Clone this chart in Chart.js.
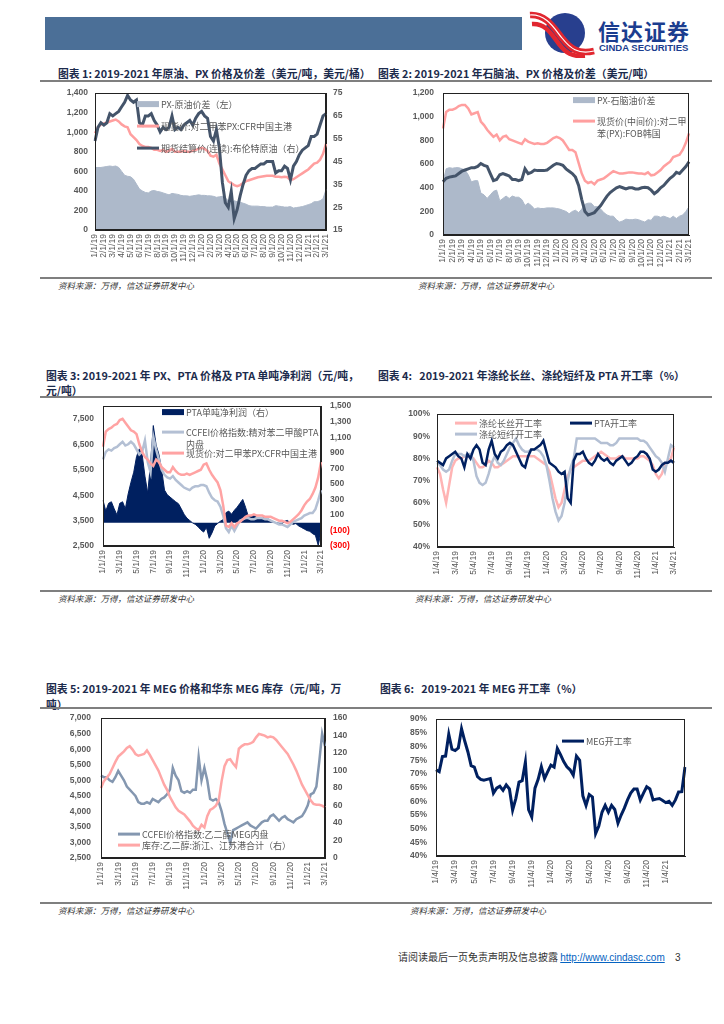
<!DOCTYPE html>
<html>
<head>
<meta charset="utf-8">
<script src="https://cdn.jsdelivr.net/npm/chart.js@4.4.0/dist/chart.umd.min.js"></script>
<style>
body{margin:0;background:#fff;width:724px;height:1024px;position:relative;overflow:hidden;font-family:"Noto Sans CJK SC","Liberation Sans",sans-serif;}
.abs{position:absolute;}
.title{position:absolute;font-size:10.8px;font-weight:bold;color:#1c2b4c;white-space:nowrap;line-height:14px;}
.src{position:absolute;font-size:8.5px;font-style:italic;color:#333;white-space:nowrap;line-height:12px;}
.rule{position:absolute;left:40px;width:672px;background:#7f7f7f;}
.box{position:absolute;}
</style>
</head>
<body>

<div class="abs" style="left:45px;top:17px;width:477px;height:33px;background:#4b6f97"></div>
<svg class="abs" style="left:528px;top:10px" width="70" height="48" viewBox="0 0 70 48">
  <circle cx="37" cy="23" r="20" fill="#283f8e"/>
  <path d="M2 5 C 18 4, 26 18, 34 28 S 50 45, 66 41" stroke="#e1262f" stroke-width="6.5" fill="none"/>
  <path d="M4 14 C 18 13, 24 25, 31 34 S 44 47, 57 46" stroke="#e1262f" stroke-width="4.5" fill="none"/>
  <path d="M2 5 C 18 4, 26 18, 34 28 S 50 45, 66 41" stroke="#fff" stroke-width="1.2" fill="none"/>
</svg>
<div class="abs" style="left:598px;top:17px;font-size:22px;font-weight:bold;color:#1b3d8f;line-height:26px;letter-spacing:1px">信达证券</div>
<div class="abs" style="left:599px;top:42px;font-size:9.5px;font-weight:bold;color:#1b3d8f;font-family:'Liberation Sans',Arial,sans-serif;line-height:11px">CINDA SECURITIES</div>

<div class="title" style="left:58px;top:66px">图表 1: 2019-2021 年原油、PX 价格及价差（美元/吨，美元/桶）</div>
<div class="title" style="left:378px;top:66px">图表 2: 2019-2021 年石脑油、PX 价格及价差（美元/吨）</div>
<div class="rule" style="top:80px;height:2px"></div>

<div class="rule" style="top:277px;height:1.5px"></div>
<div class="src" style="left:58px;top:279px">资料来源：万得，信达证券研发中心</div>
<div class="src" style="left:418px;top:279px">资料来源：万得，信达证券研发中心</div>

<div class="title" style="left:46px;top:368px">图表 3: 2019-2021 年 PX、PTA 价格及 PTA 单吨净利润（元/吨，</div>
<div class="title" style="left:46px;top:383px">元/吨）</div>
<div class="title" style="left:378px;top:368px">图表 4:&nbsp;&nbsp; 2019-2021 年涤纶长丝、涤纶短纤及 PTA 开工率（%）</div>
<div class="rule" style="top:396px;height:1.5px"></div>

<div class="rule" style="top:590px;height:1.5px"></div>
<div class="src" style="left:58px;top:592px">资料来源：万得，信达证券研发中心</div>
<div class="src" style="left:415px;top:592px">资料来源：万得，信达证券研发中心</div>

<div class="title" style="left:46px;top:681px">图表 5: 2019-2021 年 MEG 价格和华东 MEG 库存（元/吨，万</div>
<div class="title" style="left:46px;top:697px">吨）</div>
<div class="title" style="left:380px;top:681px">图表 6:&nbsp;&nbsp; 2019-2021 年 MEG 开工率（%）</div>
<div class="rule" style="top:707px;height:1.5px"></div>

<div class="rule" style="top:902px;height:1.5px"></div>
<div class="src" style="left:58px;top:904px">资料来源：万得，信达证券研发中心</div>
<div class="src" style="left:410px;top:904px">资料来源：万得，信达证券研发中心</div>

<div class="abs" style="left:398px;top:950px;font-size:10px;color:#333;white-space:nowrap;line-height:14px">请阅读最后一页免责声明及信息披露
  <span style="color:#0563c1;text-decoration:underline;font-family:'Liberation Sans',Arial,sans-serif">http://www.cindasc.com</span>
  <span style="font-family:'Liberation Sans',Arial,sans-serif;margin-left:8px">3</span></div>

<div class="box" id="b1"><canvas id="c1"></canvas></div>
<div class="box" id="b2"><canvas id="c2"></canvas></div>
<div class="box" id="b3"><canvas id="c3"></canvas></div>
<div class="box" id="b4"><canvas id="c4"></canvas></div>
<div class="box" id="b5"><canvas id="c5"></canvas></div>
<div class="box" id="b6"><canvas id="c6"></canvas></div>

<script>
// 3 samples a month, Jan 2019 - Mar 2021
function makeDates(dayList) {
  const out = [];
  for (let m = 0; m < 27; m++) {
    const yy = 19 + Math.floor(m / 12), mo = m % 12 + 1;
    dayList.forEach(d => out.push(mo + '/' + d + '/' + yy));
  }
  return out.slice(0, 79);
}
const dates = makeDates([1, 11, 21]);
const weeks = makeDates([4, 14, 24]);

// chart 1 (USD/t, USD/bbl)
const pxCrudeSpread = [640,640,640,645,650,655,650,655,640,600, 560,550,545,520,470,420,400,385,380,400,
  405,395,390,380,370,360,375,370,365,355, 350,350,345,350,355,360,355,355,350,350,
  345,335,340,345,330,300,270,300,290,285, 275,265,250,245,245,245,240,240,235,235,
  235,250,245,240,235,235,240,225,230,235, 240,250,260,270,290,290,300,320,415];
const pxCfrUsd = [990,1050,1080,1090,1100,1110,1120,1130,1110,1080, 1060,1050,980,950,920,880,860,850,850,840,
  820,820,810,820,800,810,830,800,800,800, 810,800,800,810,820,830,840,830,810,760,
  750,770,680,620,560,500,480,460,450,460, 480,500,510,520,530,540,545,550,555,555,
  555,545,545,540,545,540,510,520,540,560, 580,600,620,650,680,690,720,780,880];
const brent = [54,60,62,61,62,66,65,66,67,69, 71,74,72,71,72,62,61,65,65,66,
  63,61,58,60,59,60,65,59,60,59, 61,62,63,61,64,66,67,65,64,56,
  54,59,51,36,27,25,32,20,24,30, 35,39,41,42,42,43,44,44,45,45,
  45,40,41,41,43,42,37,43,45,48, 50,51,52,56,56,57,61,65,66];

// chart 2 (USD/t)
const pxFobKorea = [900,1040,1060,1060,1070,1090,1100,1100,1070,1020, 1030,1040,960,930,890,860,830,850,800,830,
  840,810,800,790,780,770,810,790,780,770, 775,770,770,780,800,820,830,820,800,760,
  720,720,700,610,520,460,440,450,430,460, 470,480,500,520,540,530,520,520,525,530,
  530,525,520,520,515,530,505,510,530,550, 580,600,620,660,670,680,720,780,860];
const naphtha = [450,480,490,495,500,520,540,550,560,570, 570,580,605,590,580,520,460,470,510,520,
  510,500,470,470,460,470,560,520,530,550, 545,545,545,550,570,590,605,600,590,560,
  540,520,490,420,300,200,170,180,190,220, 250,290,330,360,380,400,410,400,390,400,
  400,390,390,400,405,400,380,350,370,400, 420,450,480,500,530,520,550,580,620];
const pxNaphthaSpread = [450,560,570,565,570,570,560,550,510,450, 460,460,355,340,310,340,370,380,290,310,
  330,310,330,320,320,300,250,270,250,220, 230,225,225,230,230,230,225,220,210,200,
  180,200,210,190,220,260,270,270,240,240, 220,190,170,160,160,130,110,120,135,130,
  130,135,130,120,110,130,125,160,160,150, 160,150,140,160,140,160,170,200,240];

// chart 3 (CNY/t)
const pxCfrCny = [6400,7000,7100,7150,7250,7300,7450,7500,7350,7200, 7050,7000,6900,6500,6200,6000,5900,5750,5650,5900,
  5800,5600,5500,5400,5400,5600,5450,5350,5300,5300, 5350,5300,5350,5400,5450,5500,5700,5750,5500,5300,
  5150,5000,4700,4100,3300,3250,3400,3250,3400,3450, 3550,3650,3700,3700,3750,3700,3700,3700,3650,3650,
  3650,3600,3550,3500,3500,3450,3400,3450,3550,3650, 3750,3900,4100,4250,4350,4550,4800,5200,5800];
const ptaCcfei = [5900,6200,6300,6250,6350,6400,6500,6600,6450,6500, 6600,6500,6300,6100,6200,6650,5800,5400,6800,6300,
  5900,5500,5300,5200,5150,5250,5100,5000,4900,4800, 4750,4700,4800,4850,4850,4900,4900,4850,4600,4400,
  4300,4250,4050,3700,3200,3050,3300,3100,3300,3500, 3550,3600,3600,3550,3550,3600,3600,3600,3550,3550,
  3500,3450,3400,3350,3350,3300,3250,3350,3450,3500, 3550,3600,3700,3750,3800,3800,3950,4300,4700];
const ptaProfit = [290,150,250,270,180,100,250,270,180,370, 520,650,850,950,880,600,380,760,1250,1000,
  880,680,420,360,330,300,270,245,180,110, 60,30,0,-20,-50,-90,-120,-60,-200,-130,
  -40,-10,20,40,130,150,110,160,200,250, 300,200,80,90,95,70,60,70,55,50,
  30,10,0,-10,-15,20,30,0,-20,-10, -40,-60,-80,-100,-110,-140,-160,-290,-120];
const leftTicks3 = [2500, 3500, 4500, 5500, 6500, 7500];

// chart 4 (%)
const filamentRate = [76,73,66,60,68,76,79,80,80,81, 81,81,80,78,76,76,77,79,78,76,
  76,77,78,79,80,81,81,81,81,81, 81,81,81,80,79,78,77,74,68,62,
  58,60,66,72,75,76,77,78,79,79, 79,80,81,82,83,82,81,80,80,80,
  81,81,80,80,80,80,80,81,81,80, 79,77,73,71,73,77,79,80,85];
const stapleRate = [78,77,75,74,75,79,82,82,82,81, 82,82,79,72,69,68,69,73,78,81,
  78,77,79,82,85,87,89,86,84,83, 83,84,84,84,83,81,77,70,62,56,
  52,54,60,70,76,80,89,89,89,89, 89,89,89,88,87,87,87,86,86,87,
  89,89,89,89,89,89,89,88,88,87, 85,83,81,80,78,74,80,86,85];
const ptaRate = [79,78,77,80,81,82,83,81,80,76, 82,80,84,86,84,78,77,84,88,82,
  80,83,84,86,87,86,83,80,77,76, 81,84,84,85,86,88,83,78,77,76,
  74,73,74,62,60,79,82,82,83,80, 78,77,79,82,80,79,80,78,77,79,
  80,81,79,77,78,80,81,83,83,82, 80,75,74,75,77,78,78,79,78];

// chart 5 (CNY/t, 10k t)
const megPrice = [5150,5100,5100,5000,4950,5100,5300,5150,5000,4800, 4700,4600,4500,4300,4250,4250,4300,4250,4400,4350,
  4300,4400,4450,4550,4700,5400,5150,5000,4650,4600, 4650,4600,4700,4700,5750,5000,5400,5000,4400,4350,
  4400,4300,4000,3600,3300,3000,3400,3450,3500,3550, 3600,3650,3550,3500,3450,3550,3650,3700,3700,3850,
  3900,3800,3700,3800,3850,3750,3700,3650,3750,3800, 3850,4000,4200,4550,4600,4800,5600,6500,6100];
const megStock = [80,88,92,96,103,110,116,119,122,126, 128,124,119,117,118,119,123,118,112,106,
  100,92,84,78,70,64,58,54,52,50, 46,42,37,34,32,38,35,48,55,57,
  60,66,88,105,112,113,108,104,125,128, 130,130,131,133,138,142,141,140,138,139,
  138,135,131,127,123,119,113,107,100,92, 84,78,72,66,62,61,61,60,58];

// chart 6 (%)
const megRate = [71.5,70.8,76.3,76.5,84.5,79,78.5,79.5,86.5,82, 78,73,72.5,69,68,67.7,68,68.3,63,64.8,
  65.5,64,66,64.5,56.8,61,67,67.5,74.3,57, 54.3,64.8,68,72.6,68.3,70.8,73.2,72.5,79.3,77,
  74.5,72.6,71.5,69.5,76.5,75,62,58.5,62.5,61.6, 48.2,51,56,58.5,56,58.5,57,52,55,57.5,
  60.5,63,64.5,64.5,60.5,63,65.3,64.5,60.5,60.8, 61,60.3,59.5,60,58.5,60.5,63.4,63.5,72.5];

const GRAY = '#595959';
const NUMFONT = {family: '"Liberation Sans", Arial, sans-serif', size: 8.5, weight: 'bold'};
const XFONT = {family: '"Liberation Sans", Arial, sans-serif', size: 8.5};
const CJK = '"Noto Sans CJK SC", sans-serif';

const commas = v => v.toLocaleString('en-US');
const pct = v => v + '%';
const paren = v => v < 0 ? '(' + Math.abs(v) + ')' : v.toLocaleString('en-US');

const frame = {
  id: 'frame',
  afterDatasetsDraw(chart) {
    const a = chart.chartArea, c = chart.ctx;
    c.save();
    c.strokeStyle = '#222';
    c.lineWidth = 1;
    c.strokeRect(Math.round(a.left) + 0.5, Math.round(a.top) + 0.5,
      Math.round(a.right - a.left) - 1, Math.round(a.bottom - a.top) - 1);
    c.restore();
  }
};

// legend drawn inside the plot, clipped at its right edge
const keyBox = {
  id: 'keyBox',
  afterDatasetsDraw(chart, args, o) {
    const c = chart.ctx, a = chart.chartArea;
    c.save();
    c.beginPath();
    c.rect(a.left, 0, a.right - a.left, chart.height);
    c.clip();
    c.font = (o.size || 9) + 'px ' + CJK;
    c.textBaseline = 'middle';
    o.items.forEach(it => {
      const x = it.x - o.ox, y = it.y - o.oy;
      if (it.box) {
        c.fillStyle = it.color;
        c.fillRect(x, y - 3, 22, 6);
      } else {
        c.strokeStyle = it.color;
        c.lineWidth = 3;
        c.beginPath(); c.moveTo(x, y); c.lineTo(x + 22, y); c.stroke();
      }
      c.fillStyle = GRAY;
      it.text.forEach((t, k) => c.fillText(t, x + 24, y + k * 12));
    });
    c.restore();
  }
};

function line(data, color, width, axis, order) {
  return {data, borderColor: color, borderWidth: width, pointRadius: 0, tension: 0,
    fill: false, yAxisID: axis, order};
}
function area(data, color, axis, order) {
  return {data, borderColor: color, backgroundColor: color, borderWidth: 1, pointRadius: 0,
    tension: 0, fill: 'origin', yAxisID: axis, order};
}

function xAxis(labels, step, h, skipLast) {
  return {
    type: 'category',
    grid: {display: false, drawTicks: false},
    border: {display: true, color: '#222'},
    ticks: {
      autoSkip: false, maxRotation: 90, minRotation: 90, padding: 4, color: GRAY, font: XFONT,
      callback: (v, i) => (i % step === 0 && !(skipLast && i === labels.length - 1)) ? labels[i] : null
    },
    afterFit: s => { s.height = h; }
  };
}

function yAxis(pos, min, max, step, w, fmt, pad, color) {
  return {
    position: pos, min, max,
    grid: {display: false, drawTicks: false},
    border: {display: true, color: '#222'},
    ticks: {stepSize: step, padding: pad, color: color || GRAY, font: NUMFONT, callback: fmt},
    afterFit: s => { s.width = w; }
  };
}

// box = [left, top, width, height] of the canvas; plotTop = wanted top of plot area (page px)
function build(n, box, plotTop, labels, datasets, scales, padRight, items) {
  const b = document.getElementById('b' + n);
  b.style.left = box[0] + 'px';
  b.style.top = box[1] + 'px';
  b.style.width = box[2] + 'px';
  b.style.height = box[3] + 'px';
  const chart = new Chart(document.getElementById('c' + n), {
    type: 'line',
    data: {labels, datasets},
    options: {
      responsive: true, maintainAspectRatio: false, animation: false,
      layout: {padding: {top: 0, right: padRight, left: 0, bottom: 0}},
      plugins: {
        legend: {display: false}, tooltip: {enabled: false},
        keyBox: {items, ox: box[0], oy: box[1]}
      },
      scales
    },
    plugins: [frame, keyBox]
  });
  // move the canvas so the plot top lands where wanted, bottom stays put
  const d = plotTop - (box[1] + chart.chartArea.top);
  b.style.top = (box[1] + d) + 'px';
  b.style.height = (box[3] - d) + 'px';
  chart.options.plugins.keyBox.oy = box[1] + d;
  chart.resize();
  return chart;
}

// chart 1
build(1, [55, 86, 295, 188], 93, dates, [
  area(pxCrudeSpread, '#adb9ca', 'y', 3),
  line(pxCfrUsd, '#ff9f9f', 2.5, 'y', 2),
  line(brent, '#44546a', 3, 'y1', 1)
], {
  x: xAxis(dates, 3, 44),
  y: yAxis('left', 0, 1400, 200, 40, commas, 7),
  y1: yAxis('right', 15, 75, 10, 24, v => v, 7)
}, 0, [
  {box: true, color: '#adb9ca', x: 137, y: 104, text: ['PX-原油价差（左）']},
  {color: '#ff9f9f', x: 137, y: 126, text: ['现货价:对二甲苯PX:CFR中国主港']},
  {color: '#44546a', x: 137, y: 148, text: ['期货结算价(连续):布伦特原油（右）']}
]);

// chart 2
build(2, [400, 86, 310, 188], 93, dates, [
  area(pxNaphthaSpread, '#adb9ca', 'y', 3),
  line(pxFobKorea, '#ff9f9f', 2.5, 'y', 2),
  line(naphtha, '#44546a', 3, 'y', 1)
], {
  x: xAxis(dates, 3, 39),
  y: yAxis('left', 0, 1200, 200, 43, commas, 9)
}, 21, [
  {box: true, color: '#adb9ca', x: 573, y: 100, text: ['PX-石脑油价差']},
  {color: '#ff9f9f', x: 573, y: 121, text: ['现货价(中间价):对二甲', '苯(PX):FOB韩国']}
]);

// chart 3
const y3 = yAxis('left', 2500, 8000, 1000, 48, commas, 9);
y3.afterBuildTicks = s => { s.ticks = leftTicks3.map(v => ({value: v})); };
build(3, [55, 400, 300, 188], 406, dates, [
  area(ptaProfit, '#002060', 'y1', 3),
  line(ptaCcfei, '#b4c0d4', 2.5, 'y', 2),
  line(pxCfrCny, '#ffa3a3', 2.5, 'y', 1)
], {
  x: xAxis(dates, 6, 42),
  y: y3,
  y1: yAxis('right', -300, 1500, 200, 34, paren, 9, ctx => ctx.tick.value < 0 ? '#ff0000' : GRAY)
}, 0, [
  {box: true, color: '#002060', x: 162, y: 412, text: ['PTA单吨净利润（右）']},
  {color: '#b4c0d4', x: 162, y: 432, text: ['CCFEI价格指数:精对苯二甲酸PTA', '内盘']},
  {color: '#ffa3a3', x: 162, y: 453, text: ['现货价:对二甲苯PX:CFR中国主港']}
]);

// chart 4
build(4, [400, 400, 310, 188], 414, weeks, [
  line(filamentRate, '#ffb4b4', 2.5, 'y', 3),
  line(stapleRate, '#b4c0d4', 2.5, 'y', 2),
  line(ptaRate, '#002060', 2.5, 'y', 1)
], {
  x: xAxis(weeks, 6, 41),
  y: yAxis('left', 40, 100, 10, 37, pct, 7)
}, 36, [
  {color: '#ffb4b4', x: 455, y: 423, text: ['涤纶长丝开工率']},
  {color: '#002060', x: 570, y: 423, text: ['PTA开工率']},
  {color: '#b4c0d4', x: 455, y: 434, text: ['涤纶短纤开工率']}
]);

// chart 5
build(5, [55, 712, 300, 185], 718, dates, [
  line(megPrice, '#8497b0', 2.5, 'y', 2),
  line(megStock, '#ffa7a7', 2.5, 'y1', 1)
], {
  x: xAxis(dates, 6, 39),
  y: yAxis('left', 2500, 7000, 500, 46, commas, 10),
  y1: yAxis('right', 0, 160, 20, 30, v => v, 8)
}, 0, [
  {color: '#8497b0', x: 118, y: 834, text: ['CCFEI价格指数:乙二醇MEG内盘']},
  {color: '#ffa7a7', x: 118, y: 845, text: ['库存:乙二醇:浙江、江苏港合计（右）']}
]);

// chart 6
build(6, [400, 712, 310, 185], 719, weeks, [
  line(megRate, '#002060', 3, 'y', 1)
], {
  x: xAxis(weeks, 6, 41, true),
  y: yAxis('left', 40, 90, 5, 36, pct, 9)
}, 25, [
  {color: '#002060', x: 562, y: 741, text: ['MEG开工率']}
]);
</script>
</body>
</html>
